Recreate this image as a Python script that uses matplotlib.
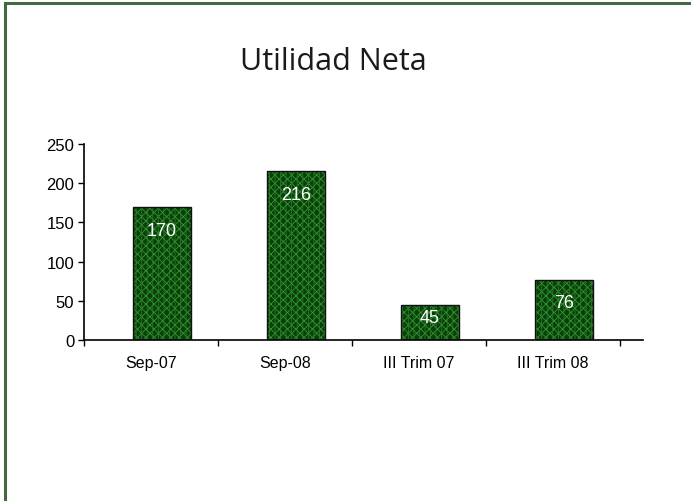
import numpy as np
import matplotlib
matplotlib.use("Agg")
import matplotlib.pyplot as plt

categories = ["Sep-07", "Sep-08", "III Trim 07", "III Trim 08"]
values = [170, 216, 45, 76]
yticks = [0, 50, 100, 150, 200, 250]

plt.rcParams['font.family'] = ['Liberation Sans', 'DejaVu Sans']
plt.rcParams['hatch.linewidth'] = 0.6

fig = plt.figure(figsize=(6.91, 5.02), dpi=100)
fig.patch.set_facecolor('white')

# frame of the chart object (only top and left edges visible)
fig.add_artist(plt.Line2D([5.5 / 691, 5.5 / 691], [0, 1 - 3.5 / 502],
                          transform=fig.transFigure, color='#3f6b3f', lw=2.2))
fig.add_artist(plt.Line2D([5.5 / 691, 1], [1 - 3.5 / 502, 1 - 3.5 / 502],
                          transform=fig.transFigure, color='#3f6b3f', lw=2.2))

fig.text(0.482, 0.8765, "Utilidad Neta", ha='center', va='center',
         fontsize=22, color='#1a1a1a', family=['Open Sans', 'DejaVu Sans'])

ax = fig.add_axes([84 / 691, 1 - 341 / 502, (643 - 84) / 691, (341 - 145) / 502])
x = np.arange(len(categories))
offset = 0.08
width = 0.43

# textured bars: dark base, green cross-hatch, black outline
ax.bar(x + offset, values, width, color='#0a3f0a', edgecolor='#2f9a2f',
       hatch='xxxx', linewidth=0, zorder=2)
ax.bar(x + offset, values, width, color='none', edgecolor='#2c7a2c',
       hatch='|||', linewidth=0, zorder=2)
ax.bar(x + offset, values, width, color='none', edgecolor='#111111',
       linewidth=1.0, zorder=3)

for xi, v in zip(x, values):
    ax.text(xi + offset, v - min(30.6, v * 0.37), str(v), ha='center', va='center',
            color='white', fontsize=13, zorder=4)

ax.set_xlim(-0.5, 3.67)
ax.set_ylim(0, 250)
ax.set_yticks(yticks)
ax.set_xticks(np.arange(-0.5, 4, 1.0))
ax.set_xticklabels([])
ax.set_xticks(x, minor=True)
ax.set_xticklabels(categories, minor=True)
ax.tick_params(axis='x', which='minor', length=0, pad=11, labelsize=11.5)
ax.tick_params(axis='x', which='major', length=4, width=1, direction='out')
ax.tick_params(axis='y', length=4, width=1, direction='out', labelsize=12, pad=3)

for s in ['top', 'right']:
    ax.spines[s].set_visible(False)
for s in ['left', 'bottom']:
    ax.spines[s].set_linewidth(1.2)

fig.savefig("out.png", dpi=100)
